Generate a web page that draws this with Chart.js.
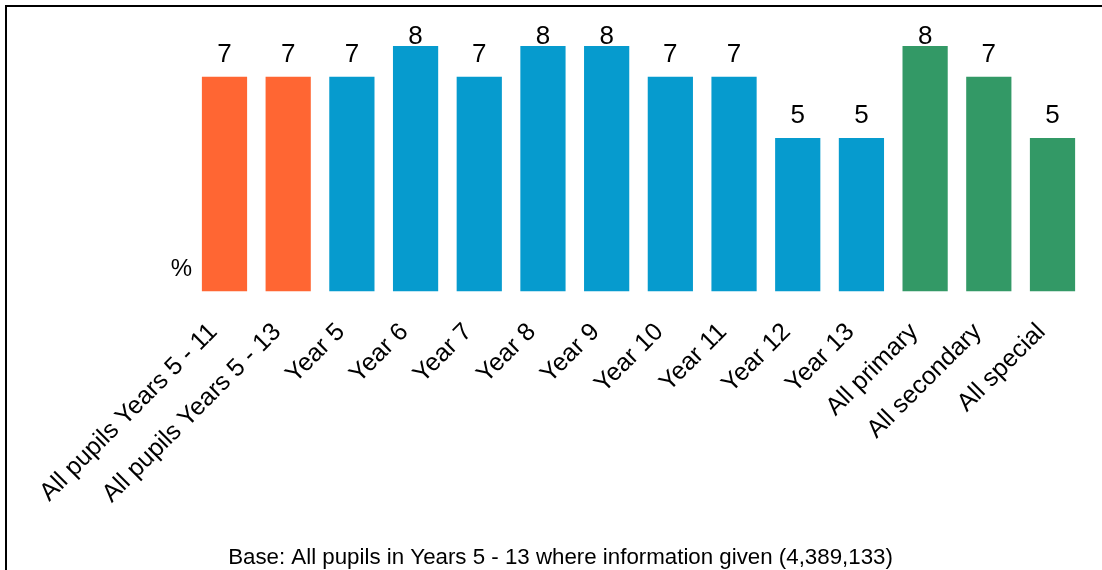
<!DOCTYPE html>
<html>
<head>
<meta charset="utf-8">
<script src="https://cdn.jsdelivr.net/npm/chart.js@4"></script>
<style>
  html, body { margin: 0; padding: 0; background: #ffffff; }
  #wrap { width: 1102px; height: 570px; position: relative; }
</style>
</head>
<body>
<div id="wrap"><canvas id="c" width="1102" height="570"></canvas></div>
<script>
const categories = ["All pupils Years 5 - 11", "All pupils Years 5 - 13", "Year 5", "Year 6", "Year 7", "Year 8", "Year 9", "Year 10", "Year 11", "Year 12", "Year 13", "All primary", "All secondary", "All special"];
const values = [7, 7, 7, 8, 7, 8, 8, 7, 7, 5, 5, 8, 7, 5];
const groups = ["all", "all", "year", "year", "year", "year", "year", "year", "year", "year", "year", "phase", "phase", "phase"];
const groupColors = { all: "#FF6633", year: "#069BCE", phase: "#339966" };
const unitLabel = "%";
const footerText = "Base: All pupils in Years 5 - 13 where information given (4,389,133)";

const FONT = "'Liberation Sans', Arial, sans-serif";

const decor = {
  id: "decor",
  beforeDraw(chart) {
    const ctx = chart.ctx;
    ctx.save();
    ctx.fillStyle = "#ffffff";
    ctx.fillRect(0, 0, chart.width, chart.height);
    ctx.fillStyle = "#000000";
    ctx.fillRect(5, 5, chart.width, 2);
    ctx.fillRect(5, 5, 2, chart.height);
    ctx.restore();
  },
  afterDatasetsDraw(chart) {
    const ctx = chart.ctx;
    const meta = chart.getDatasetMeta(0);
    ctx.save();
    ctx.fillStyle = "#000000";
    ctx.font = "26px " + FONT;
    ctx.textAlign = "center";
    ctx.textBaseline = "alphabetic";
    meta.data.forEach((bar, i) => {
      const y = Math.max(bar.y - 15, 44);
      ctx.fillText(String(values[i]), bar.x, y);
    });
    // unit label
    ctx.font = "24px " + FONT;
    ctx.textAlign = "right";
    ctx.fillText(unitLabel, 192, 276);
    // footer
    ctx.font = "22.3px " + FONT;
    ctx.textAlign = "center";
    ctx.fillText(footerText, 560.5, 564);
    ctx.restore();
  }
};

new Chart(document.getElementById("c"), {
  type: "bar",
  data: {
    labels: categories,
    datasets: [{
      data: values,
      backgroundColor: groups.map(g => groupColors[g]),
      borderWidth: 0,
      categoryPercentage: 1.0,
      barPercentage: 0.71
    }]
  },
  options: {
    responsive: false,
    animation: false,
    devicePixelRatio: 1,
    layout: { padding: { left: 192.65, right: 17.65, top: 46, bottom: 0 } },
    plugins: { legend: { display: false }, tooltip: { enabled: false } },
    scales: {
      y: { display: false, min: 0, max: 8 },
      x: {
        grid: { display: false },
        border: { display: false },
        ticks: {
          color: "#000000",
          font: { family: FONT, size: 25 },
          maxRotation: 45,
          minRotation: 45,
          padding: 18,
          labelOffset: -11,
          autoSkip: false
        },
        afterFit(scale) {
          scale.height = 570 - 291.5;
          scale.paddingLeft = 0;
          scale.paddingRight = 0;
        }
      }
    }
  },
  plugins: [decor]
});
</script>
</body>
</html>
